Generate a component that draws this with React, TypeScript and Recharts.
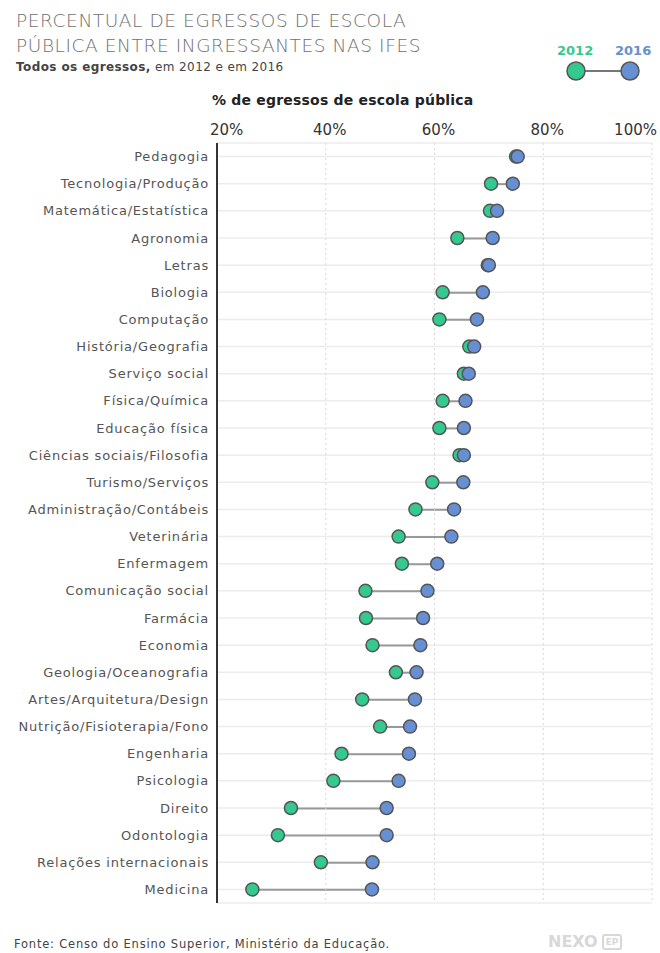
import {
  ComposedChart,
  Bar,
  Line,
  XAxis,
  YAxis,
  CartesianGrid,
  ReferenceLine,
} from "recharts";

const cursos = [
  "Pedagogia",
  "Tecnologia/Produção",
  "Matemática/Estatística",
  "Agronomia",
  "Letras",
  "Biologia",
  "Computação",
  "História/Geografia",
  "Serviço social",
  "Física/Química",
  "Educação física",
  "Ciências sociais/Filosofia",
  "Turismo/Serviços",
  "Administração/Contábeis",
  "Veterinária",
  "Enfermagem",
  "Comunicação social",
  "Farmácia",
  "Economia",
  "Geologia/Oceanografia",
  "Artes/Arquitetura/Design",
  "Nutrição/Fisioterapia/Fono",
  "Engenharia",
  "Psicologia",
  "Direito",
  "Odontologia",
  "Relações internacionais",
  "Medicina",
];

const v2012 = [
  75.0, 70.4, 70.2, 64.2, 69.8, 61.5, 60.9, 66.4, 65.4, 61.5, 60.9, 64.6, 59.6,
  56.5, 53.4, 54.0, 47.3, 47.4, 48.6, 52.9, 46.7, 50.0, 42.9, 41.4, 33.6, 31.2,
  39.1, 26.5,
];

const v2016 = [
  75.3, 74.4, 71.5, 70.7, 70.0, 68.9, 67.8, 67.3, 66.3, 65.7, 65.4, 65.4, 65.3,
  63.6, 63.1, 60.5, 58.7, 57.9, 57.4, 56.7, 56.4, 55.5, 55.3, 53.4, 51.2, 51.2,
  48.6, 48.5,
];

const xTicks = [20, 40, 60, 80, 100];

const VERDE = "#34c98e";
const AZUL = "#6690d3";
const FONT = "'DejaVu Sans', Verdana, sans-serif";

const data = cursos.map((c, i) => ({
  curso: c,
  v2012: v2012[i],
  v2016: v2016[i],
  faixa: [Math.min(v2012[i], v2016[i]), Math.max(v2012[i], v2016[i])],
}));

const PctTick = (props: any) => {
  const { x, y, payload } = props;
  let anchor: "start" | "middle" | "end" = "middle";
  let dx = 4;
  if (payload.value === 20) {
    anchor = "start";
    dx = -7;
  } else if (payload.value === 100) {
    anchor = "end";
    dx = 5;
  }
  return (
    <text
      x={x + dx}
      y={y}
      textAnchor={anchor}
      fill="#333"
      fontSize={15}
      fontFamily={FONT}
    >
      {payload.value}%
    </text>
  );
};

const CursoTick = (props: any) => {
  const { x, y, payload } = props;
  return (
    <text
      x={x}
      y={y}
      dy="0.355em"
      textAnchor="end"
      fill="#555"
      fontSize={13}
      letterSpacing={0.8}
      fontFamily={FONT}
    >
      {payload.value}
    </text>
  );
};

export default function App() {
  return (
    <div
      style={{
        position: "absolute",
        left: 0,
        top: 0,
        width: 660,
        height: 953,
        background: "#fff",
        fontFamily: FONT,
        overflow: "hidden",
      }}
    >
      <div
        style={{
          position: "absolute",
          left: 16,
          top: 8,
          fontSize: 18.5,
          lineHeight: "25px",
          color: "#707070",
          fontWeight: 200,
          letterSpacing: 0.6,
        }}
      >
        PERCENTUAL DE EGRESSOS DE ESCOLA
        <br />
        PÚBLICA ENTRE INGRESSANTES NAS IFES
      </div>
      <div
        style={{
          position: "absolute",
          left: 16,
          top: 60,
          fontSize: 12,
          color: "#444",
          letterSpacing: 0.4,
        }}
      >
        <b>Todos os egressos,</b> em 2012 e em 2016
      </div>

      {/* legenda */}
      <div
        style={{
          position: "absolute",
          left: 557,
          top: 43,
          fontSize: 13,
          fontWeight: 700,
          color: VERDE,
        }}
      >
        2012
      </div>
      <div
        style={{
          position: "absolute",
          left: 615,
          top: 43,
          fontSize: 13,
          fontWeight: 700,
          color: AZUL,
        }}
      >
        2016
      </div>
      <svg
        width={80}
        height={24}
        style={{ position: "absolute", left: 564, top: 59 }}
      >
        <line x1={12} y1={12} x2={66} y2={12} stroke="#777" strokeWidth={2} />
        <circle cx={12} cy={12} r={9} fill={VERDE} stroke="#555" strokeWidth={1.5} />
        <circle cx={66} cy={12} r={9} fill={AZUL} stroke="#555" strokeWidth={1.5} />
      </svg>

      <div
        style={{
          position: "absolute",
          left: 212,
          top: 92,
          fontSize: 14,
          fontWeight: 700,
          color: "#222",
          letterSpacing: 0.2,
        }}
      >
        % de egressos de escola pública
      </div>

      <div style={{ position: "absolute", left: 0, top: 0 }}>
        <ComposedChart
          width={660}
          height={953}
          data={data}
          layout="vertical"
          margin={{ top: 113, right: 8, bottom: 50, left: 0 }}
          barCategoryGap={0}
        >
          <CartesianGrid
            horizontal={true}
            vertical={false}
            stroke="#ececec"
            strokeWidth={1.5}
          />
          {xTicks.slice(1).map((t) => (
            <ReferenceLine
              key={t}
              x={t}
              stroke="#d8d8d8"
              strokeDasharray="2 3"
            />
          ))}
          <XAxis
            type="number"
            orientation="top"
            domain={[20, 100]}
            ticks={xTicks}
            height={30}
            axisLine={false}
            tickLine={false}
            tick={<PctTick />}
            interval={0}
          />
          <YAxis
            type="category"
            dataKey="curso"
            width={217}
            axisLine={{ stroke: "#333", strokeWidth: 2 }}
            tickLine={false}
            interval={0}
            tick={<CursoTick />}
          />
          <Bar
            dataKey="faixa"
            barSize={2}
            fill="#999"
            isAnimationActive={false}
          />
          <Line
            dataKey="v2012"
            stroke="none"
            isAnimationActive={false}
            activeDot={false}
            dot={{ r: 6.5, fill: VERDE, stroke: "#555", strokeWidth: 1.5 }}
          />
          <Line
            dataKey="v2016"
            stroke="none"
            isAnimationActive={false}
            activeDot={false}
            dot={{ r: 6.5, fill: AZUL, stroke: "#555", strokeWidth: 1.5 }}
          />
        </ComposedChart>
      </div>

      <div
        style={{
          position: "absolute",
          left: 14,
          top: 937,
          fontSize: 11.5,
          color: "#444",
          letterSpacing: 0.8,
        }}
      >
        Fonte: Censo do Ensino Superior, Ministério da Educação.
      </div>
      <div
        style={{
          position: "absolute",
          left: 548,
          top: 933,
          fontSize: 16,
          lineHeight: "18px",
          fontWeight: 700,
          color: "#d8d8d8",
          display: "flex",
          alignItems: "center",
        }}
      >
        NEXO
        <span
          style={{
            marginLeft: 4,
            fontSize: 9,
            border: "2px solid #d8d8d8",
            borderRadius: 3,
            padding: "0 2px",
            lineHeight: "12px",
          }}
        >
          EP
        </span>
      </div>
    </div>
  );
}
